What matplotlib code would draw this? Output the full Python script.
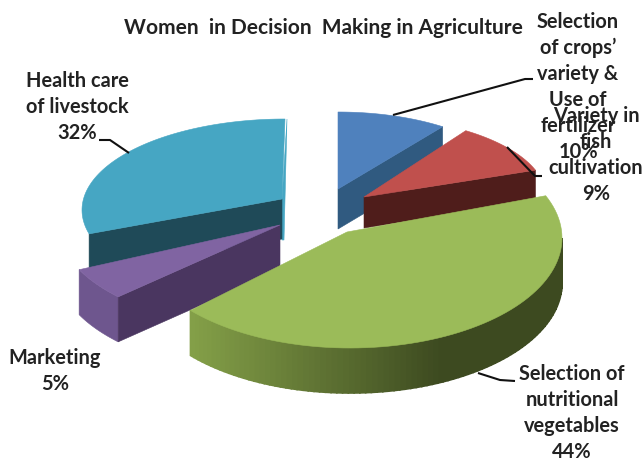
"""Women in Decision Making in Agriculture - exploded 3D style pie, drawn by hand on a pixel axis."""
import numpy as np
import matplotlib
matplotlib.use("Agg")
import matplotlib.pyplot as plt
from matplotlib.patches import Polygon
from matplotlib.colors import to_rgb

TITLE = "Women  in Decision  Making in Agriculture"
categories = ["Selection of crops' variety & Use of fertilizer",
              "Variety in fish cultivation",
              "Selection of nutritional vegetables",
              "Marketing",
              "Health care of livestock"]
shares = [10, 9, 44, 5, 32]
label_texts = ["Selection\nof crops\u2019\nvariety &\nUse of\nfertilizer\n10%",
               "Variety in\nfish\ncultivation\n9%",
               "Selection of\nnutritional\nvegetables\n44%",
               "Marketing\n5%",
               "Health care\nof livestock\n32%"]

# pixel layout of each slice: apex, ellipse centre, radii, thickness, nudge of the end angles
GEOM = [
    dict(apex=(338, 189), c=(338, 189), rx=178, ry=77, depth=40, nudge=(0, 0)),
    dict(apex=(364, 197), c=(364, 197), rx=182, ry=80, depth=31, nudge=(-2, 2)),
    dict(apex=(347, 232), c=(350, 238), rx=212, ry=110, depth=45, nudge=(-1, 2)),
    dict(apex=(280, 225), c=(280, 225), rx=222, ry=105, depth=45, nudge=(0, 0)),
    dict(apex=(282, 199), c=(285, 210), rx=203, ry=91, depth=40, nudge=(10, 0)),
]
TOP = ["#4f81bd", "#c0504d", "#9bbb59", "#8064a2", "#46a6c3"]
FACE = ["#305a80", "#4f1d1b", "#3d4a20", "#4a3660", "#1f4a58"]
OUTER = ["#3a6690", "#6b2a28", "#3d4a20", "#6e568e", None]
LABEL_POS = [(578, 87), (596, 155), (572, 413), (55, 371), (77, 107)]
LEADERS = [[(393, 115), (525, 79), (533, 79)],
           [(507, 147), (535, 176), (542, 176)],
           [(478, 373), (500, 380), (515, 381)],
           [(129, 153), (110, 140), (99, 140)]]

FONT = ["Lato", "DejaVu Sans"]


def arc(g, a0, a1, n=80):
    t = np.radians(np.linspace(a0, a1, n))
    return np.column_stack([g["c"][0] + g["rx"] * np.sin(t), g["c"][1] - g["ry"] * np.cos(t)])


def extrude(pts, depth):
    return np.vstack([pts, (pts + [0, depth])[::-1]])


def add_poly(ax, pts, color, lw=0.4):
    ax.add_patch(Polygon(pts, closed=True, facecolor=color, edgecolor=color, linewidth=lw))


def draw_slice(ax, i, a0, a1):
    g = GEOM[i]
    a0, a1 = a0 + g["nudge"][0], a1 + g["nudge"][1]
    rim = arc(g, a0, a1)
    apex = np.array(g["apex"], dtype=float)
    # outer rim wall for the part of the arc facing the viewer
    lo, hi = max(a0, 90), min(a1, 270)
    if lo < hi and OUTER[i] is not None:
        if i == 2:
            # green rim carries a left-to-right shading
            edges = np.linspace(lo, hi, 90)
            for e0, e1 in zip(edges[:-1], edges[1:]):
                seg = arc(g, e0, e1, 4)
                f = np.clip((seg[:, 0].mean() - 190) / 250, 0, 1)
                col = np.array(to_rgb("#84a048")) * (1 - f) + np.array(to_rgb("#3d4a20")) * f
                add_poly(ax, extrude(seg, g["depth"]), col, lw=1.2)
        else:
            add_poly(ax, extrude(arc(g, lo, hi), g["depth"]), OUTER[i])
    # cut face that looks toward the viewer
    if i in (3, 4):
        corner = rim[0]
    elif i == 2:
        corner = None
    else:
        corner = rim[-1]
    if corner is not None:
        add_poly(ax, extrude(np.array([apex, corner]), g["depth"]), FACE[i])
    add_poly(ax, np.vstack([apex, rim]), TOP[i])


fig = plt.figure(figsize=(6.44, 4.61), dpi=100, facecolor="white")
ax = fig.add_axes([0, 0, 1, 1])
ax.set_xlim(0, 644)
ax.set_ylim(461, 0)
ax.axis("off")

edges_deg = np.concatenate([[0], np.cumsum(shares)]) / sum(shares) * 360

# back strip of the teal slice, then slices back to front
add_poly(ax, [(287, 119), (282, 199), (282, 240), (284, 240)], "#46a6c3")
for i in [4, 3, 0, 1, 2]:
    draw_slice(ax, i, edges_deg[i], edges_deg[i + 1])

for pts in LEADERS:
    xs, ys = zip(*pts)
    ax.plot(xs, ys, color="#111111", lw=1.5, solid_capstyle="butt")

ax.text(323.5, 28, TITLE, ha="center", va="center", fontsize=15, fontweight="bold",
        family=FONT, color="#222222")
for txt, (x, y) in zip(label_texts, LABEL_POS):
    ax.text(x, y, txt, ha="center", va="center", fontsize=14.4, fontweight="bold",
            family=FONT, color="#222222", linespacing=1.37)

fig.savefig("out.png", dpi=100)
